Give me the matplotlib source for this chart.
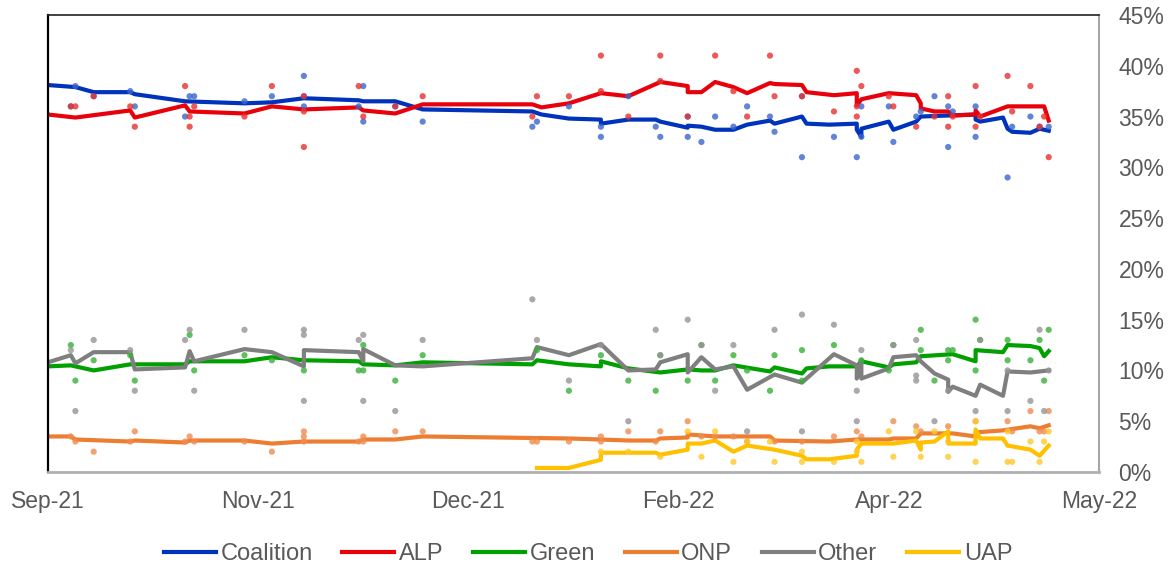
import matplotlib
matplotlib.use('agg')
import pandas as pd
import matplotlib.pyplot as plt
import matplotlib.dates as mdates

plt.rcParams['font.family'] = ['Liberation Sans', 'DejaVu Sans']

# --- trend lines (date, %) ---
coal_dates = ['2021-09-29', '2021-10-05', '2021-10-09', '2021-10-17', '2021-10-18', '2021-10-29',
              '2021-11-11', '2021-11-17', '2021-11-24', '2021-12-06', '2021-12-07', '2021-12-14',
              '2021-12-20', '2022-01-13', '2022-01-15', '2022-01-21', '2022-01-28', '2022-01-28',
              '2022-02-03', '2022-02-09', '2022-02-10', '2022-02-16', '2022-02-16', '2022-02-19',
              '2022-02-22', '2022-02-26', '2022-03-01', '2022-03-06', '2022-03-07', '2022-03-13',
              '2022-03-14', '2022-03-19', '2022-03-25', '2022-03-25', '2022-03-26', '2022-03-26',
              '2022-04-01', '2022-04-02', '2022-04-07', '2022-04-08', '2022-04-20', '2022-04-20',
              '2022-04-21', '2022-04-26', '2022-04-27', '2022-04-28', '2022-05-02', '2022-05-04',
              '2022-05-06']
coal_vals = [38.1, 37.9, 37.4, 37.4, 37.2, 36.5,
             36.3, 36.4, 36.8, 36.6, 36.5, 36.5,
             35.7, 35.5, 35.2, 34.8, 34.7, 34.3,
             34.7, 34.7, 34.5, 33.9, 34.1, 34.0,
             33.7, 33.7, 34.2, 34.6, 34.3, 35.0,
             34.3, 34.2, 34.3, 33.7, 33.0, 33.8,
             34.5, 33.7, 34.5, 35.0, 35.2, 34.7,
             34.5, 34.9, 33.8, 33.5, 33.4, 33.8,
             33.6]

alp_dates = ['2021-09-29', '2021-10-05', '2021-10-17', '2021-10-18', '2021-10-29', '2021-10-30',
             '2021-11-11', '2021-11-17', '2021-11-24', '2021-12-06', '2021-12-07', '2021-12-14',
             '2021-12-20', '2022-01-13', '2022-01-15', '2022-01-21', '2022-01-28', '2022-02-03',
             '2022-02-10', '2022-02-16', '2022-02-16', '2022-02-19', '2022-02-22', '2022-02-26',
             '2022-03-01', '2022-03-06', '2022-03-07', '2022-03-13', '2022-03-14', '2022-03-20',
             '2022-03-25', '2022-03-25', '2022-03-26', '2022-04-01', '2022-04-07', '2022-04-08',
             '2022-04-08', '2022-04-11', '2022-04-14', '2022-04-15', '2022-04-20', '2022-04-20',
             '2022-04-21', '2022-04-27', '2022-05-05', '2022-05-06']
alp_vals = [35.2, 34.9, 35.6, 34.9, 36.1, 35.5,
            35.3, 36.0, 35.7, 35.9, 35.6, 35.3,
            36.2, 36.2, 35.9, 36.3, 37.3, 37.0,
            38.4, 38.0, 37.4, 37.4, 38.4, 37.9,
            37.3, 38.3, 38.2, 38.1, 37.4, 37.1,
            37.3, 36.1, 36.7, 37.3, 37.1, 36.3,
            35.8, 35.5, 35.5, 35.1, 35.2, 35.6,
            35.0, 36.0, 36.0, 34.6]

grn_dates = ['2021-09-29', '2021-10-04', '2021-10-09', '2021-10-17', '2021-10-29', '2021-10-30',
             '2021-11-11', '2021-11-17', '2021-11-24', '2021-12-06', '2021-12-07', '2021-12-14',
             '2021-12-20', '2022-01-13', '2022-01-14', '2022-01-21', '2022-01-28', '2022-01-28',
             '2022-02-03', '2022-02-10', '2022-02-16', '2022-02-19', '2022-02-22', '2022-02-26',
             '2022-03-06', '2022-03-07', '2022-03-13', '2022-03-14', '2022-03-19', '2022-03-25',
             '2022-03-26', '2022-04-01', '2022-04-02', '2022-04-07', '2022-04-08', '2022-04-15',
             '2022-04-20', '2022-04-20', '2022-04-26', '2022-04-27', '2022-05-02', '2022-05-04',
             '2022-05-05', '2022-05-06']
grn_vals = [10.4, 10.5, 10.0, 10.6, 10.6, 10.9,
            10.9, 11.3, 11.0, 10.9, 10.6, 10.5,
            10.8, 10.6, 11.0, 10.6, 10.4, 10.9,
            10.2, 9.8, 10.1, 10.0, 10.0, 10.5,
            9.9, 10.3, 9.7, 10.2, 10.4, 10.4,
            10.9, 10.3, 10.6, 10.8, 11.4, 11.6,
            10.9, 12.0, 11.8, 12.5, 12.4, 12.2,
            11.4, 11.9]

oth_dates = ['2021-09-29', '2021-10-04', '2021-10-05', '2021-10-09', '2021-10-17', '2021-10-18',
             '2021-10-29', '2021-10-30', '2021-10-31', '2021-11-11', '2021-11-17', '2021-11-24',
             '2021-11-24', '2021-12-06', '2021-12-07', '2021-12-07', '2021-12-14', '2021-12-20',
             '2022-01-13', '2022-01-14', '2022-01-21', '2022-01-28', '2022-02-03', '2022-02-09',
             '2022-02-10', '2022-02-16', '2022-02-16', '2022-02-19', '2022-02-22', '2022-02-26',
             '2022-03-01', '2022-03-07', '2022-03-13', '2022-03-14', '2022-03-20', '2022-03-25',
             '2022-03-25', '2022-03-26', '2022-03-26', '2022-04-01', '2022-04-02', '2022-04-07',
             '2022-04-08', '2022-04-11', '2022-04-14', '2022-04-14', '2022-04-15', '2022-04-20',
             '2022-04-21', '2022-04-26', '2022-04-27', '2022-05-02', '2022-05-04', '2022-05-06']
oth_vals = [10.8, 11.5, 10.7, 11.8, 11.8, 10.1,
            10.3, 11.9, 10.9, 12.1, 11.8, 10.4,
            12.0, 11.8, 10.9, 12.1, 10.5, 10.4,
            11.2, 12.3, 11.5, 12.6, 10.0, 10.1,
            10.8, 11.6, 9.8, 11.3, 10.1, 10.4,
            8.1, 9.6, 8.8, 9.2, 11.6, 10.5,
            9.2, 11.0, 9.2, 10.2, 11.3, 11.5,
            10.9, 9.7, 9.1, 7.9, 8.4, 7.5,
            8.6, 7.5, 9.9, 9.8, 9.9, 10.0]

onp_dates = ['2021-09-29', '2021-10-04', '2021-10-05', '2021-10-17', '2021-10-18', '2021-10-29',
             '2021-10-30', '2021-11-11', '2021-11-17', '2021-11-24', '2021-12-06', '2021-12-07',
             '2021-12-14', '2021-12-20', '2022-01-21', '2022-01-28', '2022-02-03', '2022-02-09',
             '2022-02-10', '2022-02-16', '2022-02-16', '2022-02-22', '2022-02-26', '2022-03-06',
             '2022-03-07', '2022-03-19', '2022-03-25', '2022-04-01', '2022-04-02', '2022-04-07',
             '2022-04-08', '2022-04-15', '2022-04-20', '2022-04-20', '2022-04-26', '2022-05-02',
             '2022-05-04', '2022-05-06']
onp_vals = [3.5, 3.5, 3.2, 3.0, 3.1, 2.9,
            3.1, 3.1, 2.8, 3.0, 3.0, 3.2,
            3.2, 3.5, 3.3, 3.2, 3.1, 3.1,
            3.3, 3.4, 3.7, 3.5, 3.5, 3.5,
            3.1, 3.0, 3.2, 3.2, 3.3, 3.3,
            3.8, 3.8, 3.5, 3.9, 4.1, 4.5,
            4.3, 4.6]

uap_dates = ['2022-01-14', '2022-01-21', '2022-01-28', '2022-01-28', '2022-02-09', '2022-02-10',
             '2022-02-16', '2022-02-16', '2022-02-19', '2022-02-22', '2022-02-26', '2022-03-01',
             '2022-03-07', '2022-03-13', '2022-03-14', '2022-03-19', '2022-03-25', '2022-03-25',
             '2022-03-26', '2022-04-02', '2022-04-07', '2022-04-08', '2022-04-08', '2022-04-11',
             '2022-04-14', '2022-04-14', '2022-04-20', '2022-04-20', '2022-04-21', '2022-04-26',
             '2022-04-27', '2022-05-02', '2022-05-04', '2022-05-06']
uap_vals = [0.4, 0.4, 1.2, 1.9, 1.9, 1.7,
            2.2, 2.8, 2.8, 3.1, 2.0, 2.6,
            2.2, 1.6, 1.25, 1.25, 1.6, 2.2,
            2.8, 2.8, 3.1, 2.2, 2.9, 3.0,
            4.0, 2.8, 2.8, 4.2, 3.3, 3.3,
            2.6, 2.2, 1.6, 2.6]

# --- individual polls (date, %) ---
coal_poll_dates = ['2021-10-04', '2021-10-05', '2021-10-09', '2021-10-17', '2021-10-18', '2021-10-29',
                   '2021-10-30', '2021-10-31', '2021-11-11', '2021-11-17', '2021-11-24', '2021-11-24',
                   '2021-11-24', '2021-12-06', '2021-12-07', '2021-12-07', '2021-12-14', '2021-12-20',
                   '2022-01-13', '2022-01-14', '2022-01-21', '2022-01-28', '2022-01-28', '2022-02-03',
                   '2022-02-09', '2022-02-10', '2022-02-16', '2022-02-16', '2022-02-19', '2022-02-22',
                   '2022-02-26', '2022-03-01', '2022-03-06', '2022-03-07', '2022-03-13', '2022-03-13',
                   '2022-03-20', '2022-03-25', '2022-03-26', '2022-03-26', '2022-04-01', '2022-04-02',
                   '2022-04-07', '2022-04-08', '2022-04-11', '2022-04-14', '2022-04-14', '2022-04-15',
                   '2022-04-20', '2022-04-20', '2022-04-27', '2022-04-28', '2022-05-02', '2022-05-04',
                   '2022-05-06']
coal_poll_vals = [36, 38, 37, 37.5, 36, 35,
                  37, 37, 36.5, 37, 39, 37,
                  36, 36, 38, 34.5, 36, 34.5,
                  34, 34.5, 36, 34, 33, 37,
                  34, 33, 35, 33, 32.5, 35,
                  34, 36, 35, 33.5, 37, 31,
                  33, 31, 36, 33, 36, 32.5,
                  35, 35.5, 37, 36, 32, 35.5,
                  36, 33, 29, 34, 35, 34,
                  34]

alp_poll_dates = ['2021-10-04', '2021-10-05', '2021-10-09', '2021-10-17', '2021-10-18', '2021-10-29',
                  '2021-10-30', '2021-10-30', '2021-10-31', '2021-11-11', '2021-11-17', '2021-11-24',
                  '2021-11-24', '2021-11-24', '2021-12-06', '2021-12-07', '2021-12-14', '2021-12-20',
                  '2022-01-13', '2022-01-14', '2022-01-21', '2022-01-28', '2022-01-28', '2022-02-03',
                  '2022-02-10', '2022-02-10', '2022-02-16', '2022-02-22', '2022-02-26', '2022-03-01',
                  '2022-03-06', '2022-03-07', '2022-03-13', '2022-03-20', '2022-03-25', '2022-03-25',
                  '2022-03-25', '2022-03-26', '2022-04-01', '2022-04-02', '2022-04-07', '2022-04-11',
                  '2022-04-14', '2022-04-14', '2022-04-15', '2022-04-20', '2022-04-20', '2022-04-21',
                  '2022-04-27', '2022-04-28', '2022-05-02', '2022-05-04', '2022-05-05', '2022-05-06']
alp_poll_vals = [36, 36, 37, 36, 34, 38,
                 35, 34, 36, 35, 38, 37,
                 35.5, 32, 38, 35, 36, 37,
                 35, 37, 37, 41, 37.5, 35,
                 41, 38.5, 35, 41, 37.5, 35,
                 41, 37, 37, 35.5, 39.5, 36,
                 35, 38, 37, 36, 34, 35,
                 37, 34, 35, 38, 34, 35,
                 39, 35.5, 38, 34, 35, 31]

grn_poll_dates = ['2021-10-04', '2021-10-05', '2021-10-09', '2021-10-17', '2021-10-18', '2021-10-30',
                  '2021-10-31', '2021-11-11', '2021-11-17', '2021-11-24', '2021-12-06', '2021-12-07',
                  '2021-12-07', '2021-12-14', '2021-12-20', '2022-01-14', '2022-01-21', '2022-01-28',
                  '2022-02-03', '2022-02-09', '2022-02-10', '2022-02-16', '2022-02-19', '2022-02-22',
                  '2022-02-26', '2022-03-01', '2022-03-06', '2022-03-07', '2022-03-13', '2022-03-13',
                  '2022-03-20', '2022-03-26', '2022-04-01', '2022-04-02', '2022-04-08', '2022-04-08',
                  '2022-04-11', '2022-04-14', '2022-04-14', '2022-04-15', '2022-04-20', '2022-04-20',
                  '2022-04-21', '2022-04-27', '2022-04-27', '2022-05-02', '2022-05-04', '2022-05-05',
                  '2022-05-06']
grn_poll_vals = [12.5, 9, 11, 11.5, 9, 13.5,
                 10, 11.5, 11, 10, 10, 12.5,
                 10, 9, 11.5, 12, 8, 11.5,
                 9, 8, 11.5, 9, 12.5, 9,
                 11.5, 10, 8, 11.5, 12, 9,
                 12.5, 11, 10, 12.5, 14, 12,
                 9, 12, 11, 12, 15, 10,
                 13, 13, 11, 11, 13, 9,
                 14]

oth_poll_dates = ['2021-10-04', '2021-10-05', '2021-10-09', '2021-10-17', '2021-10-18', '2021-10-29',
                  '2021-10-30', '2021-10-31', '2021-11-11', '2021-11-24', '2021-11-24', '2021-11-24',
                  '2021-12-06', '2021-12-07', '2021-12-07', '2021-12-14', '2021-12-20', '2022-01-13',
                  '2022-01-14', '2022-01-21', '2022-01-28', '2022-02-03', '2022-02-09', '2022-02-10',
                  '2022-02-16', '2022-02-19', '2022-02-22', '2022-02-26', '2022-03-01', '2022-03-07',
                  '2022-03-13', '2022-03-13', '2022-03-20', '2022-03-25', '2022-03-25', '2022-03-26',
                  '2022-04-02', '2022-04-07', '2022-04-07', '2022-04-07', '2022-04-11', '2022-04-14',
                  '2022-04-20', '2022-04-21', '2022-04-27', '2022-04-27', '2022-05-02', '2022-05-04',
                  '2022-05-05', '2022-05-06']
oth_poll_vals = [12, 6, 13, 12, 8, 13,
                 14, 8, 14, 14, 13.5, 7,
                 13, 13.5, 7, 6, 13, 17,
                 13, 9, 12.5, 5, 14, 11.5,
                 15, 12.5, 8, 12.5, 4, 14,
                 15.5, 4, 14.5, 8, 5, 12,
                 12.5, 13, 9.5, 9, 5, 8,
                 6, 13, 10, 6, 7, 14,
                 6, 10]

onp_poll_dates = ['2021-10-04', '2021-10-05', '2021-10-09', '2021-10-17', '2021-10-18', '2021-10-29',
                  '2021-10-30', '2021-10-31', '2021-11-11', '2021-11-17', '2021-11-24', '2021-11-24',
                  '2021-11-24', '2021-12-06', '2021-12-07', '2021-12-07', '2021-12-14', '2021-12-20',
                  '2022-01-13', '2022-01-14', '2022-01-21', '2022-01-28', '2022-01-28', '2022-02-03',
                  '2022-02-09', '2022-02-10', '2022-02-16', '2022-02-19', '2022-02-22', '2022-02-26',
                  '2022-03-01', '2022-03-07', '2022-03-13', '2022-03-20', '2022-03-25', '2022-03-26',
                  '2022-04-02', '2022-04-07', '2022-04-08', '2022-04-14', '2022-04-20', '2022-04-27',
                  '2022-04-28', '2022-05-02', '2022-05-04', '2022-05-05', '2022-05-06']
onp_poll_vals = [3.5, 3, 2, 3, 4, 3,
                 3.5, 3, 3, 2, 4, 3.5,
                 3, 3, 3.5, 3, 4, 4,
                 3, 3, 3, 3.5, 3, 4,
                 3, 4, 5, 3.5, 3.5, 3.5,
                 3, 3, 3, 3.5, 4, 3.5,
                 5, 4.5, 4, 4.5, 5, 5,
                 4, 6, 4, 4, 6]

uap_poll_dates = ['2022-01-28', '2022-02-03', '2022-02-10', '2022-02-16', '2022-02-19', '2022-02-22',
                  '2022-02-26', '2022-03-01', '2022-03-06', '2022-03-07', '2022-03-13', '2022-03-13',
                  '2022-03-20', '2022-03-25', '2022-03-25', '2022-03-26', '2022-04-01', '2022-04-02',
                  '2022-04-07', '2022-04-08', '2022-04-11', '2022-04-14', '2022-04-14', '2022-04-20',
                  '2022-04-20', '2022-04-27', '2022-04-27', '2022-04-28', '2022-05-02', '2022-05-04',
                  '2022-05-05', '2022-05-06']
uap_poll_vals = [2, 2, 1.5, 4, 1.5, 4,
                 1, 3, 3, 1, 2, 1,
                 1, 3, 2, 1, 4, 1.5,
                 4, 1.5, 4, 3, 1.5, 5,
                 1, 4, 1, 1, 3, 1,
                 3, 4]

parties = ['Coalition', 'ALP', 'Green', 'ONP', 'Other', 'UAP']
line_colors = ['#0033bb', '#e8000b', '#00a000', '#ed7d31', '#7f7f7f', '#ffc000']
dot_colors = ['#3a66cc', '#e83030', '#38b038', '#f08c50', '#959595', '#ffc82a']
lines = [(coal_dates, coal_vals), (alp_dates, alp_vals), (grn_dates, grn_vals),
         (onp_dates, onp_vals), (oth_dates, oth_vals), (uap_dates, uap_vals)]
polls = [(coal_poll_dates, coal_poll_vals), (alp_poll_dates, alp_poll_vals),
         (grn_poll_dates, grn_poll_vals), (onp_poll_dates, onp_poll_vals),
         (oth_poll_dates, oth_poll_vals), (uap_poll_dates, uap_poll_vals)]

fig = plt.figure(figsize=(11.76, 5.65), dpi=100)
ax = fig.add_axes([0.0408, 0.1646, 0.8937, 0.8089])

for name, (d, v), c in zip(parties, lines, line_colors):
    ax.plot(pd.to_datetime(d), v, color=c, lw=3, solid_joinstyle='round',
            label=name, zorder=2)
for (d, v), c in zip(polls, dot_colors):
    ax.scatter(pd.to_datetime(d), v, s=20, color=c, alpha=0.8,
               edgecolor='none', zorder=3)

start = pd.Timestamp('2021-09-29')
ticks = [start + pd.Timedelta(days=46 * i) for i in range(6)]
ax.set_xlim(ticks[0], ticks[-1])
ax.set_xticks(ticks)
ax.xaxis.set_major_formatter(mdates.DateFormatter('%b-%y'))
ax.set_ylim(0, 45)
ax.set_yticks(range(0, 50, 5))
ax.set_yticklabels(['%d%%' % t for t in range(0, 50, 5)])
ax.yaxis.tick_right()
for lab in ax.get_yticklabels():
    lab.set_horizontalalignment('left')
ax.tick_params(axis='y', length=0, pad=14, labelsize=16.5, labelcolor='#595959')
ax.tick_params(axis='x', length=0, pad=13, labelsize=16.5, labelcolor='#595959')

ax.spines['left'].set_color('#000000')
ax.spines['left'].set_linewidth(1.6)
ax.spines['top'].set_color('#222222')
ax.spines['top'].set_linewidth(1.2)
ax.spines['right'].set_color('#a6a6a6')
ax.spines['right'].set_linewidth(1.5)
ax.spines['bottom'].set_color('#b0b0b0')
ax.spines['bottom'].set_linewidth(2)

fig.legend(loc='lower center', bbox_to_anchor=(0.5, -0.008), ncol=6, frameon=False,
           fontsize=17, labelcolor='#595959', handlelength=2.2, handletextpad=0.2,
           columnspacing=1.25, borderaxespad=0, borderpad=0.2)

plt.savefig('out.png', dpi=100)
plt.close()
